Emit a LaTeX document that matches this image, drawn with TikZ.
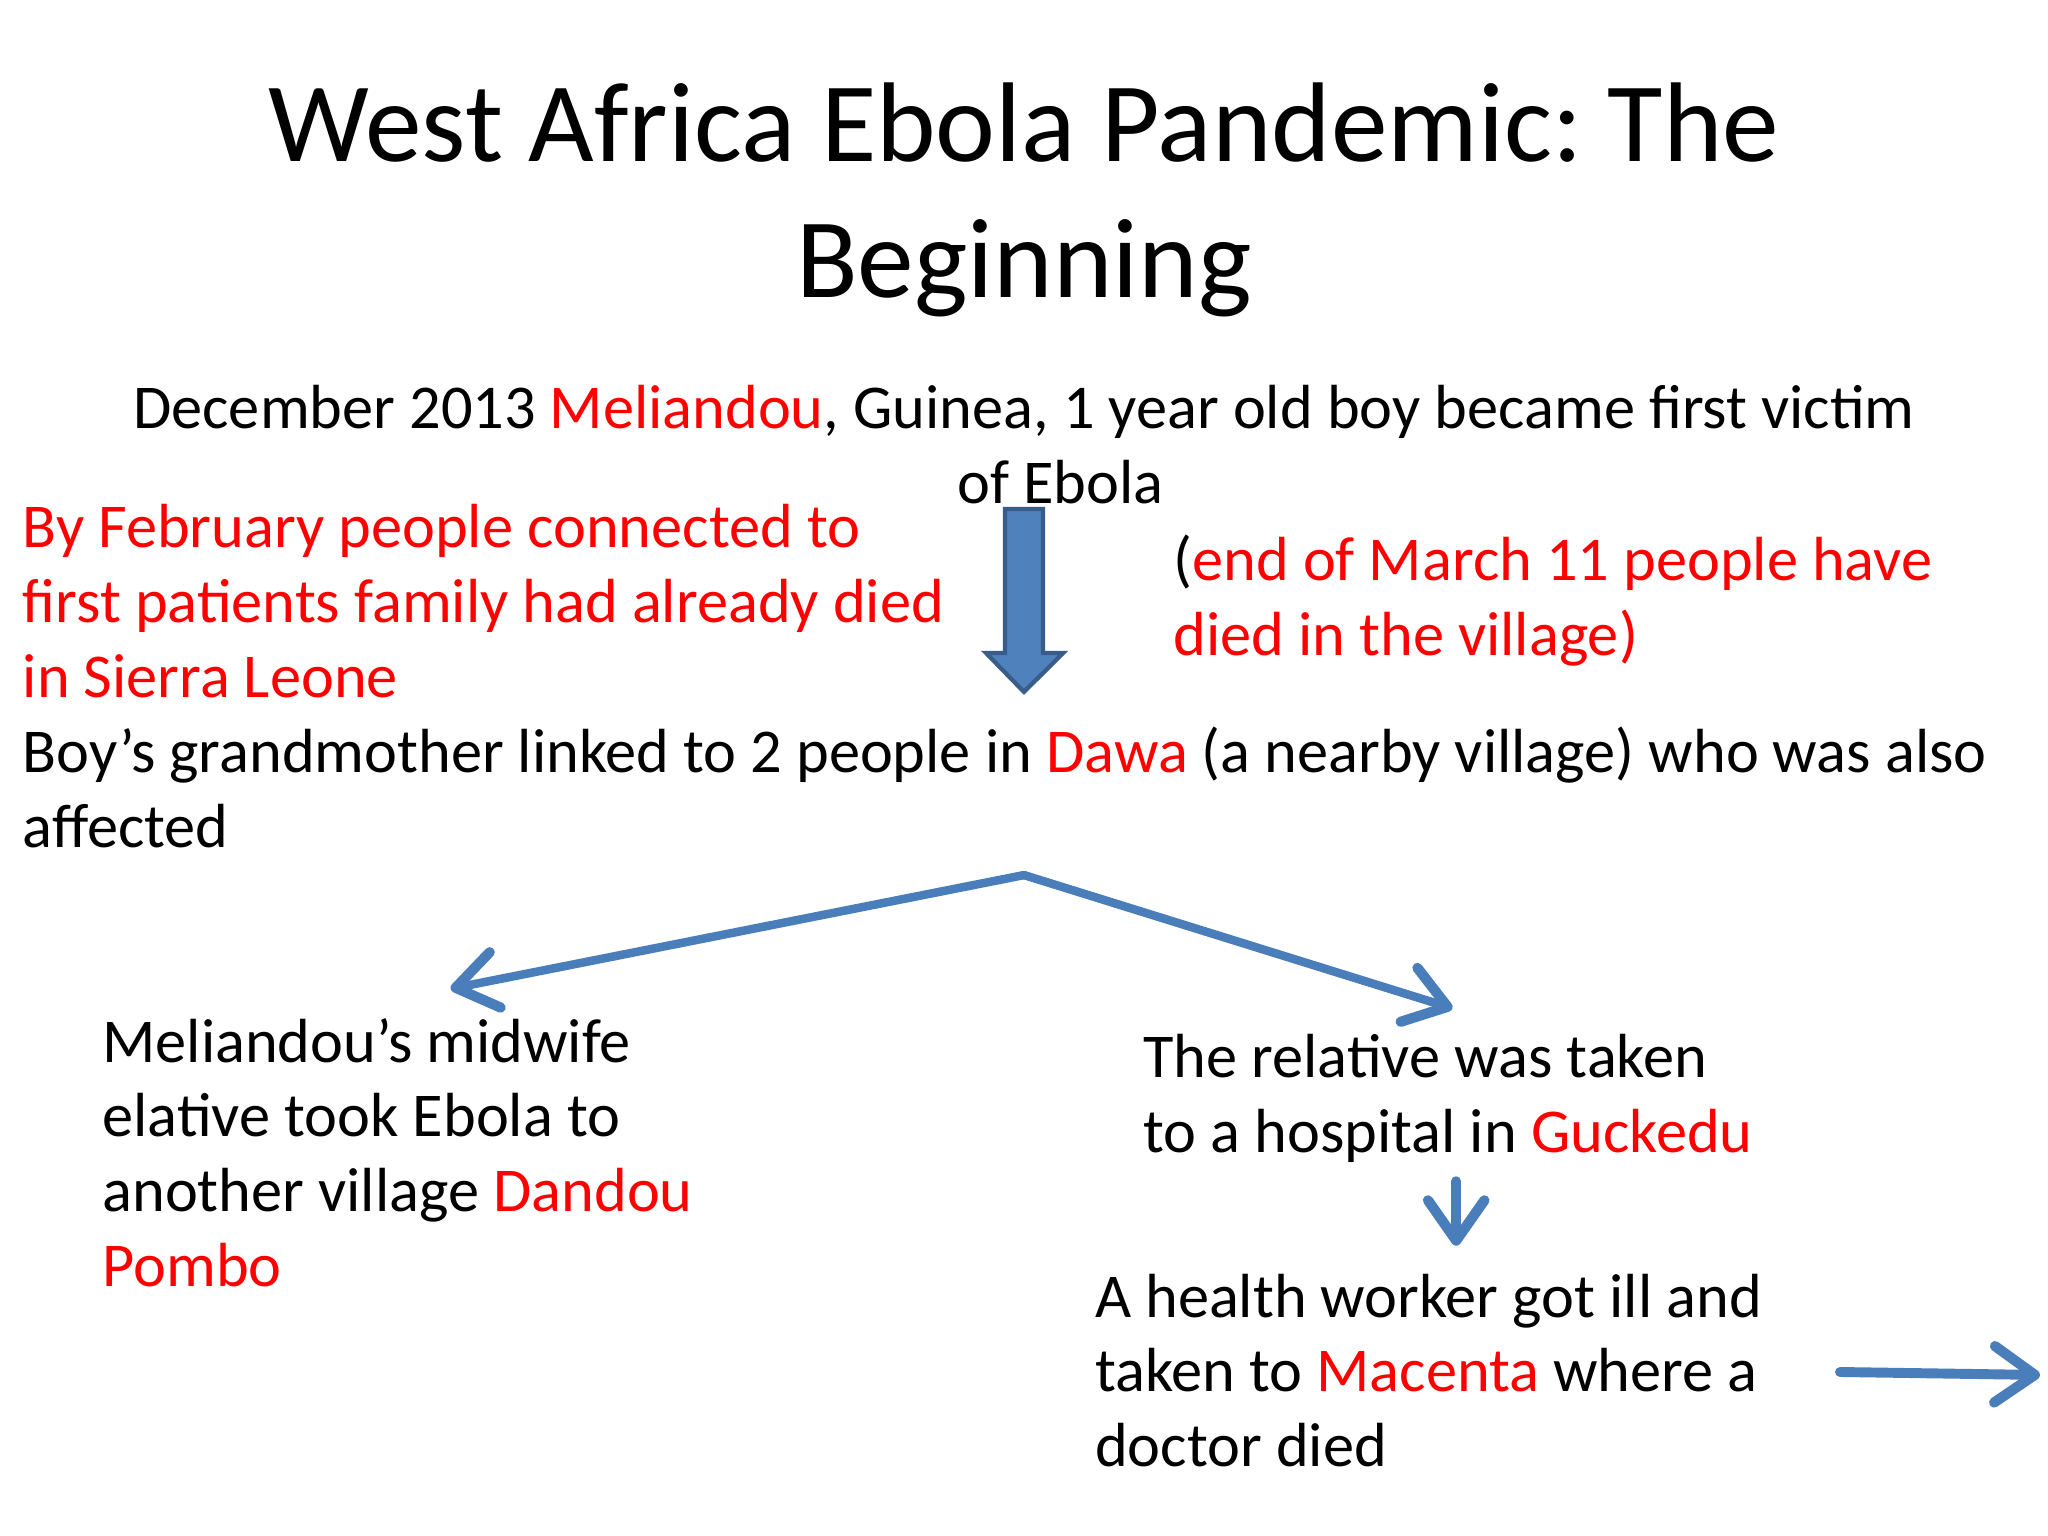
\documentclass[tikz,border=0pt]{standalone}
\usepackage{fontspec}
\setmainfont{Carlito}
\usetikzlibrary{arrows.meta}
\frenchspacing
\definecolor{flowblue}{HTML}{4A7EBB}
\definecolor{blockfill}{HTML}{4F81BD}
\definecolor{blockline}{HTML}{385D8A}
\definecolor{placered}{HTML}{FF0000}
\newcommand{\place}[1]{\textcolor{placered}{#1}}
\tikzset{
  titletext/.style={font=\fontsize{40}{48}\selectfont, inner sep=0pt, align=center},
  bodytext/.style={font=\fontsize{22}{26.4}\selectfont, inner sep=0pt, align=left},
  flow/.style={draw=flowblue, line width=3pt, line cap=round,
    -{Straight Barb[length=5mm, width=7mm, round, line width=3.6pt]}},
  thickflow/.style={flow, line width=3.5pt}
}

\begin{document}
\begin{tikzpicture}
	\useasboundingbox[fill=white] (0, 0) rectangle (25.4, 19.05);

	% title and first case (base = last line)
	\node[titletext, anchor=base] (title) at (12.70, 15.357) {West Africa Ebola Pandemic: The\\Beginning};
	\node[bodytext, align=center, anchor=base] (firstcase) at (12.70, 12.81)
		{December 2013 \place{Meliandou}, Guinea, 1 year old boy became first victim\\\hspace*{0.9cm}of Ebola};

	% big arrow down
	\draw[fill=blockfill, draw=blockline, line width=1.5pt, line join=miter]
		(12.465, 12.737) -- (12.936, 12.737) -- (12.936, 10.951) -- (13.184, 10.951)
		-- (12.70, 10.468) -- (12.229, 10.951) -- (12.465, 10.951) -- cycle;

	\node[bodytext, anchor=base west] (february) at (0.275, 8.543)
		{\place{By February people connected to}\\
		 \place{first patients family had already died}\\
		 \place{in Sierra Leone}\\
		 Boy’s grandmother linked to 2 people in \place{Dawa} (a nearby village) who was also\\
		 affected};
	\node[bodytext, anchor=base west] (march) at (14.547, 10.918)
		{(\place{end of March 11 people have}\\\place{died in the village)}};

	% the two branches
	\coordinate (split) at (12.70, 8.197);
	\coordinate (midwifetip) at (5.589, 6.787);
	\coordinate (relativetip) at (18.013, 6.544);
	\draw[flow] (split) -- (midwifetip);
	\draw[flow] (split) -- (relativetip);

	\node[bodytext, anchor=base west] (midwife) at (1.264, 3.094)
		{Meliandou’s midwife\\elative took Ebola to\\another village \place{Dandou}\\\place{Pombo}};
	\node[bodytext, anchor=base west] (relative) at (14.174, 4.762)
		{The relative was taken\\to a hospital in \place{Guckedu}};
	\node[bodytext, anchor=base west] (worker) at (13.575, 0.859)
		{A health worker got ill and\\taken to \place{Macenta} where a\\doctor died};

	\coordinate (hospital) at (18.06, 4.40);
	\coordinate (healthtip) at (18.06, 3.60);
	\draw[thickflow] (hospital) -- (healthtip);

	\coordinate (onward) at (22.82, 2.034);
	\coordinate (onwardtip) at (25.30, 1.997);
	\draw[thickflow] (onward) -- (onwardtip);
\end{tikzpicture}
\end{document}
